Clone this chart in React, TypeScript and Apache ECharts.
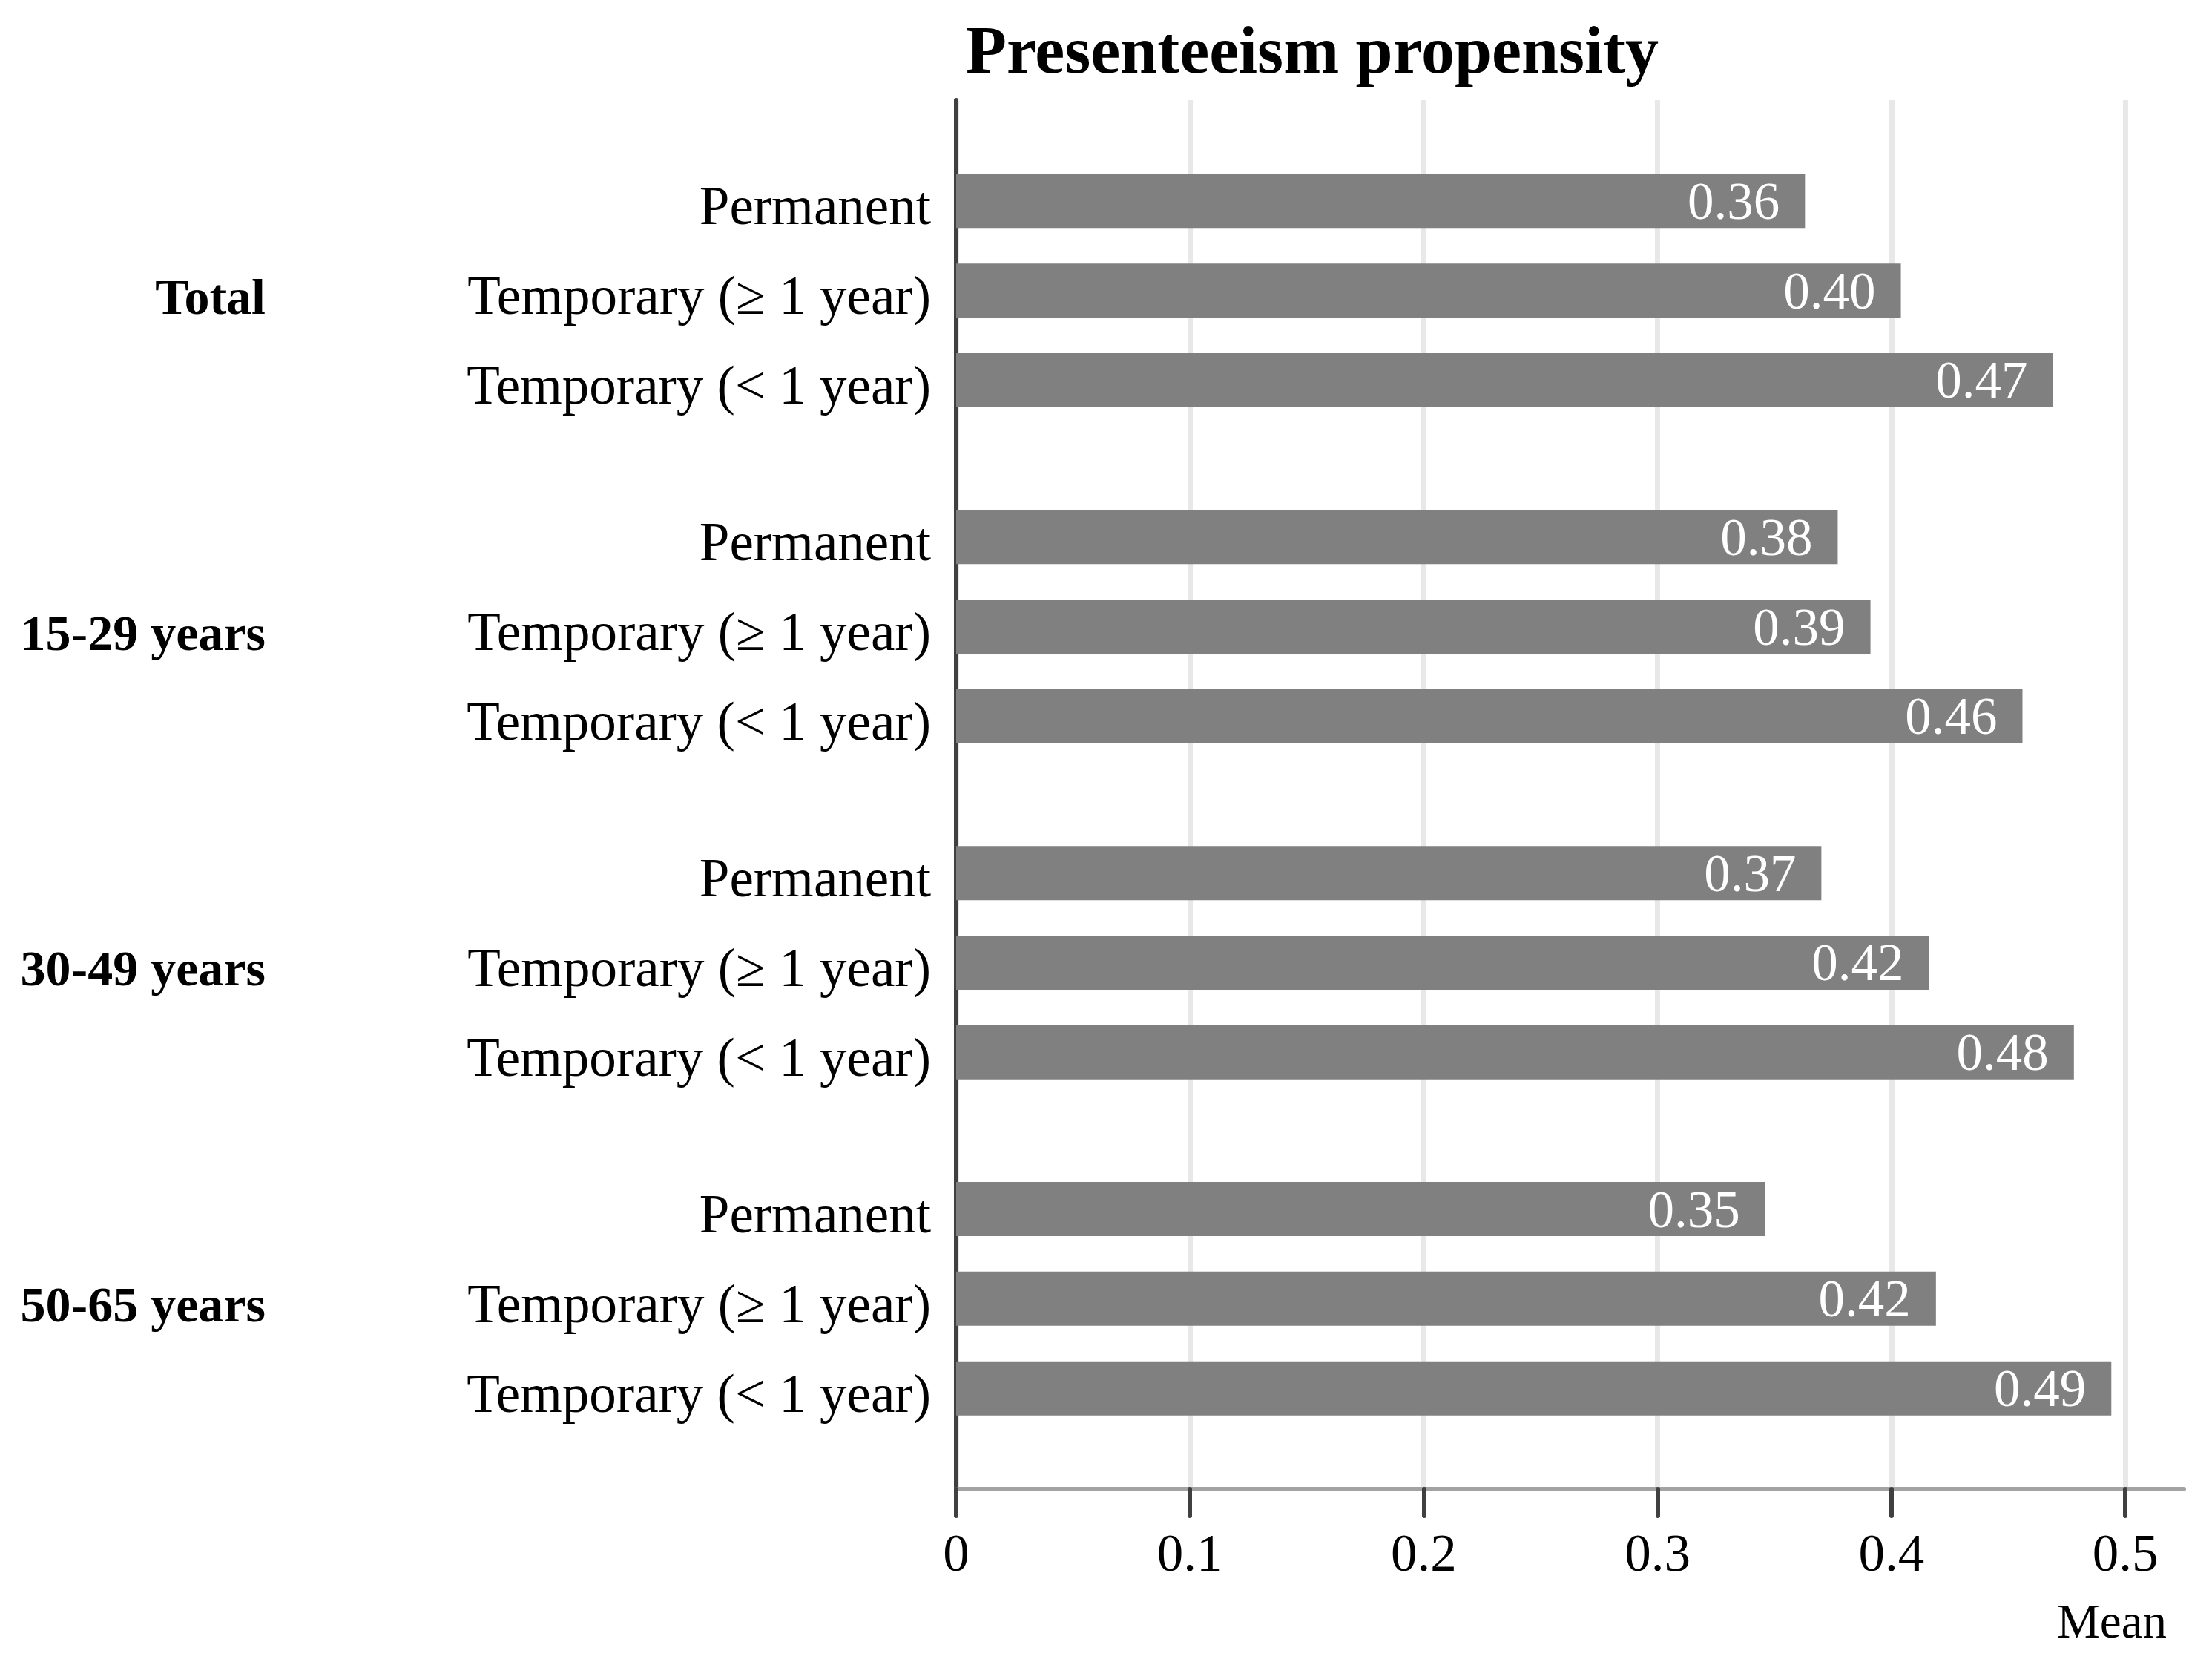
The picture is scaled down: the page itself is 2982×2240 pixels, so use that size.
import React, { useEffect, useRef } from "react";
import * as echarts from "echarts";

// ---- Data ----
const groupNames = ["Total", "15-29 years", "30-49 years", "50-65 years"];
const contractTypes = ["Permanent", "Temporary (≥ 1 year)", "Temporary (< 1 year)"];
const totalValues = [0.363, 0.404, 0.469];
const age1529Values = [0.377, 0.391, 0.456];
const age3049Values = [0.37, 0.416, 0.478];
const age5065Values = [0.346, 0.419, 0.494];
const groupValues = [totalValues, age1529Values, age3049Values, age5065Values];
const xTickValues = [0, 0.1, 0.2, 0.3, 0.4, 0.5];
const xMax = 0.525;
const chartTitle = "Presenteeism propensity";
const xAxisName = "Mean";

// ---- Slot layout of the category axis (rows and gaps between groups) ----
const LEAD = 9;
const ROW_STEP = 8;
const GROUP_STEP = 30;
const SLOT_COUNT = 125;

const FONT = '"Liberation Serif", "DejaVu Serif", serif';

function buildTables() {
  const cats: string[] = [];
  const rowLabels: string[] = [];
  const groupLabels: string[] = [];
  const values: (number | null)[] = [];
  for (let i = 0; i < SLOT_COUNT; i++) {
    cats.push(String(i));
    rowLabels.push("");
    groupLabels.push("");
    values.push(null);
  }
  groupNames.forEach((g, gi) => {
    contractTypes.forEach((c, ri) => {
      const idx = LEAD + gi * GROUP_STEP + ri * ROW_STEP;
      rowLabels[idx] = c;
      values[idx] = groupValues[gi][ri];
      if (ri === 1) groupLabels[idx] = g;
    });
  });
  return { cats, rowLabels, groupLabels, values };
}

export default function App() {
  const ref = useRef<HTMLDivElement>(null);
  useEffect(() => {
    if (!ref.current) return;
    const chart = echarts.init(ref.current, undefined, { renderer: "svg" });
    const { cats, rowLabels, groupLabels, values } = buildTables();
    chart.setOption({
      animation: false,
      backgroundColor: "#ffffff",
      grid: { left: 1289, right: 38, top: 135, bottom: 233, containLabel: false },
      graphic: [
        {
          type: "text",
          x: 1769,
          y: 22,
          style: {
            text: chartTitle,
            fill: "#000000",
            font: `bold 90px ${FONT}`,
            align: "center",
            verticalAlign: "top",
          },
        },
      ],
      xAxis: {
        type: "value",
        min: 0,
        max: xMax,
        name: xAxisName,
        nameLocation: "end",
        nameGap: -23,
        nameTextStyle: {
          fontFamily: FONT,
          fontSize: 65,
          color: "#000000",
          align: "right",
          verticalAlign: "top",
          padding: [145, 0, 0, 0],
        },
        axisLine: { show: true, lineStyle: { color: "#a3a3a3", width: 6 } },
        axisTick: {
          show: true,
          length: 36,
          customValues: xTickValues,
          lineStyle: { color: "#404040", width: 6, cap: "round" },
        },
        axisLabel: {
          customValues: xTickValues,
          margin: 50,
          fontFamily: FONT,
          fontSize: 71,
          color: "#000000",
          formatter: (v: number) => String(v),
        },
        splitLine: { show: true, lineStyle: { color: "#e8e8e8", width: 7 } },
      },
      yAxis: [
        {
          type: "category",
          data: cats,
          inverse: true,
          boundaryGap: false,
          axisLine: { show: true, lineStyle: { color: "#404040", width: 6 } },
          axisTick: { show: false },
          splitLine: { show: false },
          axisLabel: {
            interval: 0,
            margin: 34,
            color: "#000000",
            formatter: (_v: string, i: number) => (rowLabels[i] ? `{r|${rowLabels[i]}}` : ""),
            rich: {
              r: {
                fontFamily: FONT,
                fontSize: 73,
                color: "#000000",
                padding: [14, 0, 0, 0],
              },
            },
          },
        },
        {
          type: "category",
          data: cats,
          inverse: true,
          boundaryGap: false,
          position: "left",
          offset: 900,
          axisLine: { show: false },
          axisTick: { show: false },
          splitLine: { show: false },
          axisLabel: {
            interval: 0,
            margin: 31,
            color: "#000000",
            formatter: (_v: string, i: number) => (groupLabels[i] ? `{g|${groupLabels[i]}}` : ""),
            rich: {
              g: {
                fontFamily: FONT,
                fontSize: 68,
                fontWeight: "bold",
                color: "#000000",
                padding: [16, 0, 0, 0],
              },
            },
          },
        },
      ],
      series: [
        {
          type: "bar",
          yAxisIndex: 0,
          data: values,
          barWidth: 73,
          itemStyle: { color: "#808080" },
          label: {
            show: true,
            position: "insideRight",
            distance: 34,
            fontFamily: FONT,
            fontSize: 71,
            color: "#ffffff",
            formatter: (p: any) => (p.value == null ? "" : Number(p.value).toFixed(2)),
          },
        },
      ],
    });
    return () => chart.dispose();
  }, []);
  return (
    <div
      ref={ref}
      style={{ position: "absolute", left: 0, top: 0, width: 2982, height: 2240 }}
    />
  );
}
